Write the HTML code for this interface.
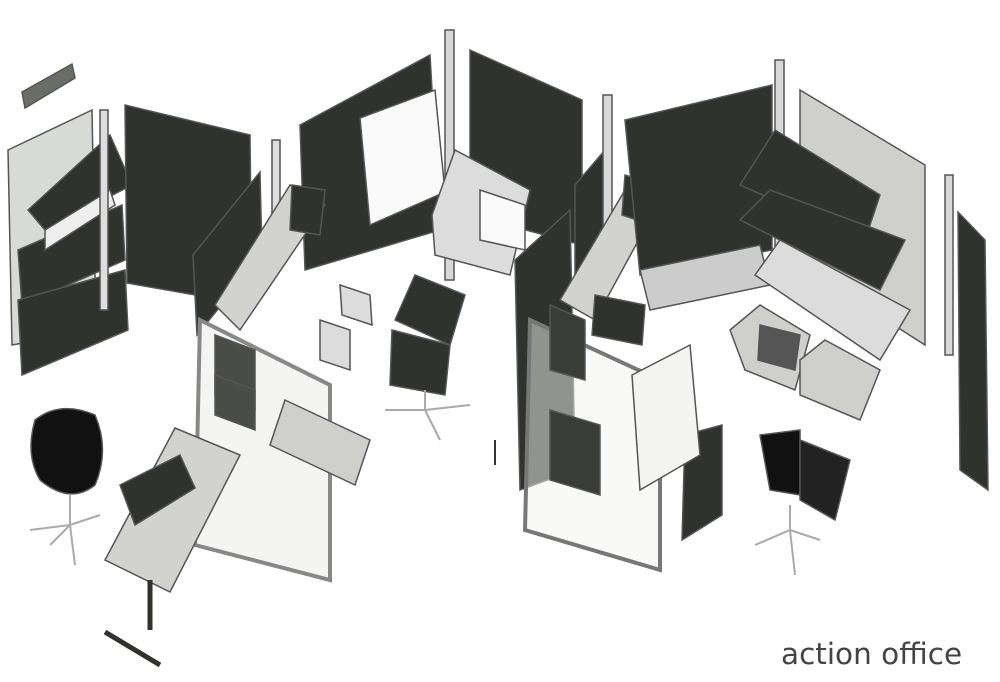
<!DOCTYPE html>
<html><head><style>
html,body{margin:0;padding:0;background:#fff;width:1000px;height:682px;overflow:hidden}
svg{display:block}
text{font-family:"DejaVu Sans","Liberation Sans",sans-serif}
</style></head><body>
<svg width="1000" height="682" viewBox="0 0 1000 682" xmlns="http://www.w3.org/2000/svg">
<g stroke="#555" stroke-width="1.5">
<polygon points="22,92 72,64 75,78 25,108" fill="#6a6d66"/>
<polygon points="8,150 92,110 96,330 12,345" fill="#d8dad5"/>
<polygon points="28,210 110,135 132,185 45,230" fill="#2f322d"/>
<polygon points="18,250 122,205 125,260 22,305" fill="#2f322d"/>
<polygon points="18,300 125,270 128,330 22,375" fill="#2f322d"/>
<polygon points="45,230 110,190 115,205 45,250" fill="#eee"/>
<polygon points="125,105 250,135 252,305 127,283" fill="#2f322d"/>
<rect x="100" y="110" width="8" height="200" fill="#ddd"/>
<rect x="272" y="140" width="8" height="85" fill="#ddd"/>
<polygon points="193,255 260,172 262,255 197,335" fill="#2f322d"/>
<polygon points="300,125 430,55 440,230 305,270" fill="#2f322d"/>
<polygon points="360,118 435,90 445,192 370,225" fill="#fafafa"/>
<rect x="445" y="30" width="9" height="250" fill="#d8d8d8"/>
<polygon points="470,50 582,100 582,245 470,215" fill="#2f322d"/>
<polygon points="215,305 290,185 325,205 240,330" fill="#d2d3cf"/>
<polygon points="292,185 325,190 320,235 290,230" fill="#2f322d"/>
<polygon points="200,320 330,385 330,580 195,545" fill="#f4f4f2" stroke="#888" stroke-width="4"/>
<polygon points="215,335 255,350 255,410 215,395" fill="#4a4c48"/>
<polygon points="215,375 255,390 255,430 215,415" fill="#4a4c48"/>
<polygon points="285,400 370,440 355,485 270,445" fill="#cfd0cc"/>
<polygon points="175,428 240,455 170,592 105,560" fill="#d2d3cf"/>
<polygon points="120,485 180,455 195,488 135,525" fill="#2f322d"/>
<line x1="150" y1="580" x2="150" y2="630" stroke="#2f322d" stroke-width="5"/>
<line x1="105" y1="632" x2="160" y2="665" stroke="#2f322d" stroke-width="5"/>
<path d="M35,420 Q60,400 95,415 Q110,450 95,485 Q70,505 40,480 Q25,455 35,420Z" fill="#111"/>
<g fill="none" stroke="#aaa" stroke-width="2"><path d="M70,495 L70,525 L30,530 M70,525 L100,515 M70,525 L75,565 M70,525 L50,545"/></g>
<polygon points="320,320 350,330 350,370 320,360" fill="#dcdcdc"/>
<polygon points="340,285 370,295 372,325 342,315" fill="#dcdcdc"/>
<polygon points="395,320 415,275 465,295 450,345" fill="#2f322d"/>
<polygon points="392,330 450,345 445,395 390,385" fill="#2f322d"/>
<g fill="none" stroke="#aaa" stroke-width="2"><path d="M425,390 L425,410 L385,410 M425,410 L440,440 M425,410 L470,405"/></g>
<polygon points="432,215 455,150 530,190 510,275 435,255" fill="#dcdcdc"/>
<polygon points="480,190 525,205 525,250 480,240" fill="#fafafa"/>
<polygon points="575,185 605,150 605,275 575,305" fill="#2f322d"/>
<rect x="603" y="95" width="9" height="150" fill="#d8d8d8"/>
<polygon points="515,260 570,210 575,470 520,490" fill="#2f322d"/>
<polygon points="560,300 625,190 655,210 595,320" fill="#d2d3cf"/>
<polygon points="625,175 657,185 652,225 622,215" fill="#2f322d"/>
<polygon points="595,295 645,305 642,345 592,335" fill="#2f322d"/>
<polygon points="530,320 660,380 660,570 525,530" fill="#f4f4f2" fill-opacity="0.5" stroke="#777" stroke-width="4"/>
<polygon points="550,305 585,320 585,380 550,370" fill="#3a3c38"/>
<polygon points="550,410 600,425 600,495 550,480" fill="#3a3c38"/>
<polygon points="685,435 722,425 722,515 682,540" fill="#2f322d"/>
<polygon points="632,375 690,345 700,455 640,490" fill="#f4f4f2"/>
<polygon points="625,120 772,85 772,250 640,275" fill="#2f322d"/>
<polygon points="640,270 760,245 770,285 650,310" fill="#ccc"/>
<rect x="775" y="60" width="9" height="200" fill="#d8d8d8"/>
<polygon points="800,90 925,165 925,345 800,265" fill="#cfd0cc"/>
<polygon points="740,185 775,130 880,195 865,240" fill="#2f322d"/>
<polygon points="740,220 770,190 905,240 880,290" fill="#2f322d"/>
<polygon points="755,275 780,240 910,310 880,360" fill="#dcdcdc"/>
<polygon points="730,330 760,305 810,335 795,390 745,370" fill="#cfd0cc"/>
<polygon points="760,325 800,335 795,370 758,360" fill="#555"/>
<polygon points="800,360 825,340 880,370 860,420 800,395" fill="#cfd0cc"/>
<polygon points="760,435 800,430 800,495 770,490" fill="#111"/>
<polygon points="800,440 850,460 835,520 800,500" fill="#222"/>
<g fill="none" stroke="#aaa" stroke-width="2"><path d="M790,505 L790,530 L755,545 M790,530 L820,540 M790,530 L795,575"/></g>
<rect x="945" y="175" width="8" height="180" fill="#d8d8d8"/>
<polygon points="958,212 985,240 988,490 960,470" fill="#2f322d"/>
</g>
<line x1="495" y1="440" x2="495" y2="465" stroke="#333" stroke-width="2"/>
<text x="781" y="664" font-size="29.5" fill="#444">action office</text>
</svg>
</body></html>
